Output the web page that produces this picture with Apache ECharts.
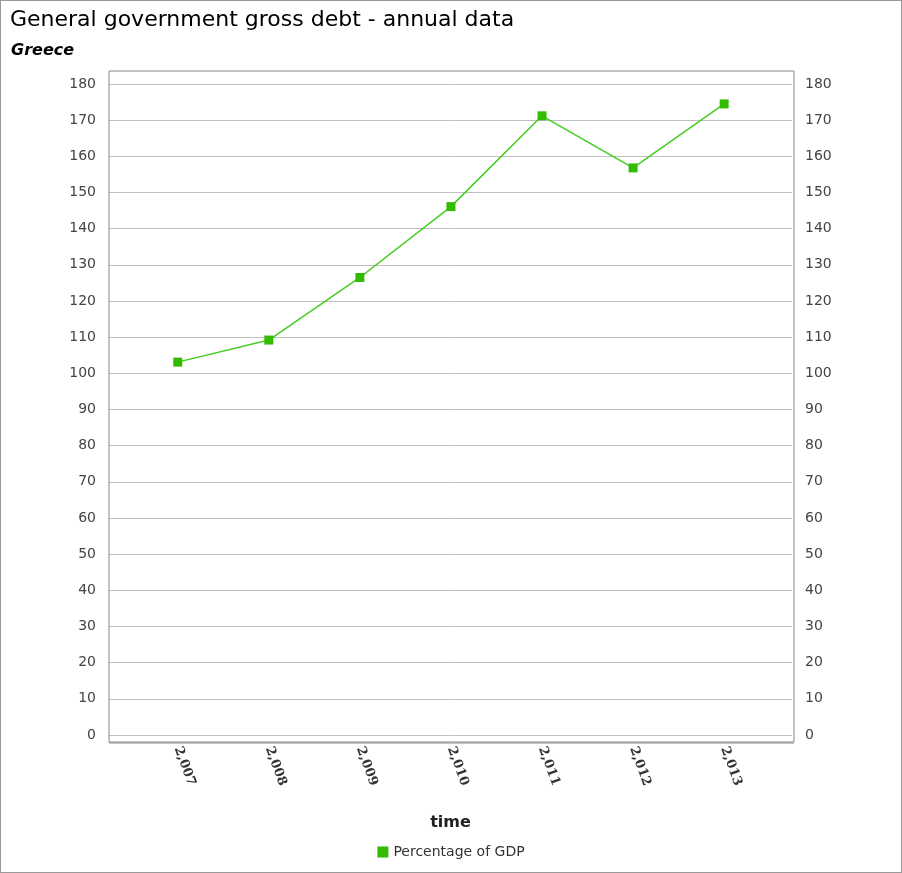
<!DOCTYPE html>
<html><head><meta charset="utf-8">
<script src="https://cdn.jsdelivr.net/npm/echarts@6/dist/echarts.min.js"></script>
<style>html,body{margin:0;padding:0;background:#fff}#chart{width:902px;height:873px;box-sizing:border-box;border:1px solid #999}</style>
</head><body><div id="chart"></div>
<script>
let years = [2007, 2008, 2009, 2010, 2011, 2012, 2013];
let debt = [103.1, 109.2, 126.5, 146.1, 171.2, 156.8, 174.5];

let chart = echarts.init(document.getElementById("chart"));
let yAxisBase = {
	type: "value", min: 0, max: 180, interval: 10,
	axisLine: {show: false}, axisTick: {show: false},
	axisLabel: {color: "#444", fontSize: 14, fontFamily: "DejaVu Sans", margin: 13},
	splitLine: {lineStyle: {color: "#c0c0c0"}}
};
chart.setOption({
	title: [
		{text: "General government gross debt - annual data", left: 4, top: 3,
			textStyle: {fontSize: 22, fontWeight: "normal", color: "#000", fontFamily: "DejaVu Sans"}},
		{text: "Greece", left: 5, top: 37,
			textStyle: {fontSize: 16, fontWeight: "bold", fontStyle: "italic", color: "#000", fontFamily: "DejaVu Sans"}}
	],
	grid: {left: 108, right: 109, top: 83, bottom: 137},
	legend: {bottom: 8, left: "center", icon: "rect", itemWidth: 11, itemHeight: 11, itemGap: 4,
		textStyle: {fontSize: 14, color: "#333", fontFamily: "DejaVu Sans"}, data: ["Percentage of GDP"]},
	xAxis: {
		type: "value", min: 2006.245, max: 2013.745,
		name: "time", nameLocation: "middle", nameGap: 80,
		nameTextStyle: {fontSize: 16, fontWeight: "bold", color: "#222", fontFamily: "DejaVu Sans"},
		axisLine: {show: false}, axisTick: {show: false}, splitLine: {show: false},
		axisLabel: {customValues: years, rotate: -70, margin: 12, fontSize: 13, fontWeight: "bold", color: "#333", fontFamily: "DejaVu Serif"}
	},
	yAxis: [
		Object.assign({}, yAxisBase, {position: "left"}),
		Object.assign({}, yAxisBase, {position: "right", splitLine: {show: false}})
	],
	graphic: [
		{type: "rect", shape: {x: 108, y: 70, width: 685, height: 671}, silent: true, z: 100,
			style: {fill: "none", stroke: "#888", lineWidth: 1}},
		{type: "line", shape: {x1: 108, y1: 742, x2: 793, y2: 742}, z: 100, style: {stroke: "#888", lineWidth: 1}}
	],
	series: [{
		name: "Percentage of GDP", type: "line", data: years.map((y, i) => [y, debt[i]]),
		symbol: "rect", symbolSize: 9,
		itemStyle: {color: "#33bb00"}, lineStyle: {color: "#44cc22", width: 1.5}
	}]
});
</script></body></html>
